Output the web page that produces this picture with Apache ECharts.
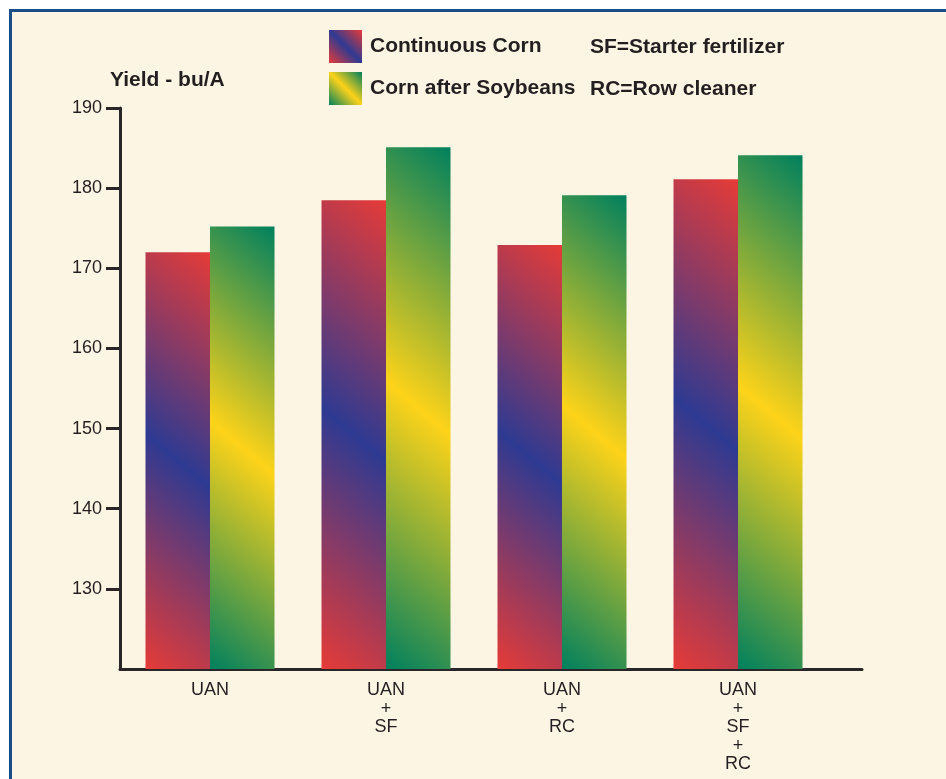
<!DOCTYPE html>
<html>
<head>
<meta charset="utf-8">
<title>Corn yield by fertilizer and row cleaner treatment</title>
<script src="https://cdn.jsdelivr.net/npm/echarts@6/dist/echarts.min.js"></script>
<style>
  html, body { margin: 0; padding: 0; background: #ffffff; overflow: hidden; }
  #frame {
    position: absolute; left: 9px; top: 9px; width: 937px; height: 770px;
    background: #fdf5e3;
    border-left: 3px solid #1b4d89;
    border-top: 3px solid #1b4d89;
    box-sizing: border-box;
  }
  #chart { position: absolute; left: 0; top: 0; width: 946px; height: 779px; }
</style>
</head>
<body>
<div id="frame"></div>
<div id="chart"></div>
<script>
// Treatments along the x axis
const categories = ['UAN', 'UAN\n+\nSF', 'UAN\n+\nRC', 'UAN\n+\nSF\n+\nRC'];
// Yield, bu/A
const continuousCorn = [172.0, 178.5, 172.9, 181.1];
const cornAfterSoybeans = [175.2, 185.1, 179.1, 184.1];
const seriesNames = ['Continuous Corn', 'Corn after Soybeans'];
const yTicks = [130, 140, 150, 160, 170, 180, 190];
const yMin = 120, yMax = 190;

// Layout
const gridTop = 108, gridBottom = 110, chartH = 779;
const plotH = chartH - gridTop - gridBottom;
const barW = 64.5;
const ink = '#231f20';
const font = 'Liberation Sans, Arial, Helvetica, sans-serif';

const redBlue = ['#e63b37', '#2e3a92'];
const greenYellow = ['#00805e', '#fdd319'];

// Diagonal gradient per bar: ends at bottom-left / top-right corners,
// midpoint colour running through the bar's centre on a slant.
function slantGradient(pair, h, w) {
  const r = 1.2;
  const s = (w + r * h) / (1 + r * r);
  return new echarts.graphic.LinearGradient(0, 1, s / w, 1 - s * r / h, [
    { offset: 0, color: pair[0] },
    { offset: 0.5, color: pair[1] },
    { offset: 1, color: pair[0] }
  ]);
}
function barColor(pair) {
  return function (p) {
    const h = (p.value - yMin) * plotH / (yMax - yMin);
    return slantGradient(pair, h, barW);
  };
}
function swatch(pair) {
  return new echarts.graphic.LinearGradient(0, 1, 1, 0, [
    { offset: 0, color: pair[0] },
    { offset: 0.5, color: pair[1] },
    { offset: 1, color: pair[0] }
  ]);
}

const chart = echarts.init(document.getElementById('chart'), null, { renderer: 'canvas' });
chart.setOption({
  animation: false,
  backgroundColor: 'transparent',
  textStyle: { fontFamily: font },
  title: [
    {
      text: 'Yield - bu/A', left: 110, top: 70, padding: 0,
      textStyle: { fontSize: 21, fontWeight: 'bold', color: ink, fontFamily: font }
    },
    {
      text: 'SF=Starter fertilizer\nRC=Row cleaner', left: 590, top: 26, padding: 0,
      textStyle: { fontSize: 21, fontWeight: 'bold', color: ink, lineHeight: 42, fontFamily: font }
    }
  ],
  legend: {
    orient: 'vertical', left: 329, top: 30, padding: 0,
    itemWidth: 33, itemHeight: 33, itemGap: 9,
    icon: 'rect',
    selectedMode: false,
    textStyle: { fontSize: 21, fontWeight: 'bold', color: ink, fontFamily: font, padding: [0, 0, 0, 3] },
    data: [
      { name: seriesNames[0], itemStyle: { color: swatch(redBlue) } },
      { name: seriesNames[1], itemStyle: { color: swatch(greenYellow) } }
    ]
  },
  grid: [
    { left: 122, width: 704, top: gridTop, bottom: gridBottom },
    { left: 120, right: 84, top: gridTop, bottom: gridBottom }
  ],
  xAxis: [
    {
      type: 'category', gridIndex: 0, data: categories,
      axisLine: { show: false }, axisTick: { show: false },
      axisLabel: { fontSize: 18, lineHeight: 18.5, color: ink, margin: 12, fontFamily: font }
    },
    {
      type: 'category', gridIndex: 1, data: categories,
      axisLine: { show: true, lineStyle: { color: '#2a2526', width: 3 } },
      axisTick: { show: false }, axisLabel: { show: false }
    }
  ],
  yAxis: [
    {
      type: 'value', gridIndex: 0, min: yMin, max: yMax, interval: 10, offset: 2,
      axisLine: { show: true, lineStyle: { color: '#2a2526', width: 3 } },
      axisTick: { show: true, length: 14, customValues: yTicks, lineStyle: { color: '#2a2526', width: 3 } },
      axisLabel: { fontSize: 18, color: ink, margin: 18, customValues: yTicks, fontFamily: font },
      splitLine: { show: false }
    },
    { type: 'value', gridIndex: 1, min: yMin, max: yMax, show: false }
  ],
  series: [
    {
      name: seriesNames[0], type: 'bar', xAxisIndex: 0, yAxisIndex: 0,
      data: continuousCorn, barWidth: barW, barGap: '0%',
      itemStyle: { color: barColor(redBlue) },
      emphasis: { disabled: true }
    },
    {
      name: seriesNames[1], type: 'bar', xAxisIndex: 0, yAxisIndex: 0,
      data: cornAfterSoybeans, barWidth: barW, barGap: '0%',
      itemStyle: { color: barColor(greenYellow) },
      emphasis: { disabled: true }
    }
  ]
});
</script>
</body>
</html>
